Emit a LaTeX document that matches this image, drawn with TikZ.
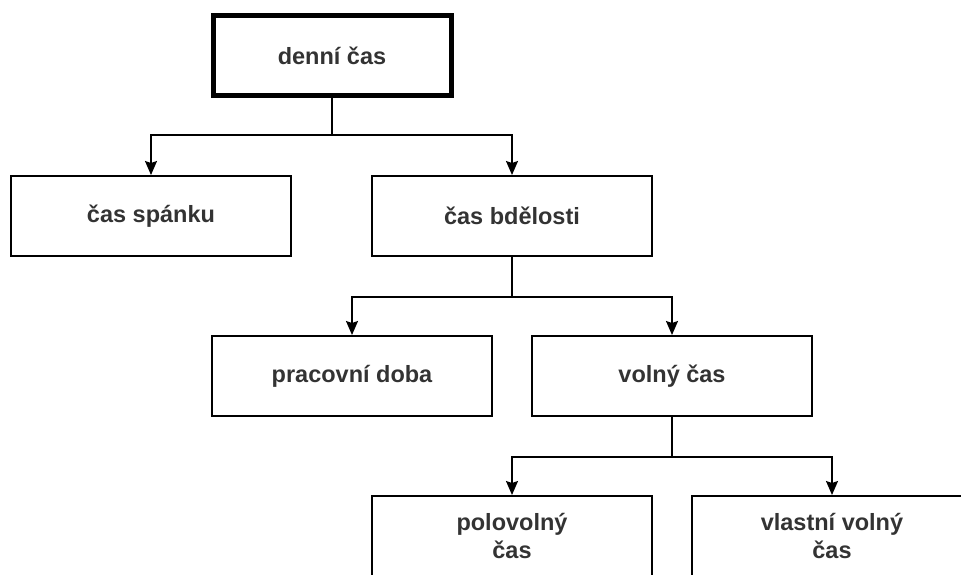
\documentclass[tikz,border=0pt]{standalone}
\usepackage{fontspec}
\setmainfont{Liberation Sans}
\usepackage{tikz}
\usetikzlibrary{positioning,arrows.meta}
\definecolor{textgray}{RGB}{51,51,51}

\begin{document}
\begin{tikzpicture}[x=1pt, y=-1pt,
    box/.style={rectangle, draw, line width=2pt, minimum width=280pt, minimum height=80pt, align=center, font=\fontsize{23.5}{28}\selectfont\bfseries, text=textgray},
    rootbox/.style={box, line width=5pt, minimum width=238pt},
    link/.style={line width=1.6pt, -{Stealth[length=14pt, width=12pt, inset=2pt]}}
]
\useasboundingbox (0,0) rectangle (961,574);

% LEVELS
\node[rootbox] (denni) at (332, 55.5) {denní čas};
\node[box] (spanek) at (151, 216) {čas spánku};
\node[box] (bdelost) at (512, 216) {čas bdělosti};
\node[box] (prace) at (352, 376) {pracovní doba};
\node[box] (volny) at (672, 376) {volný čas};
\node[box] (polovolny) at (512, 536) {polovolný\\čas};
\node[box] (vlastni) at (832, 536) {vlastní volný\\čas};

% CONNECTORS
\draw[link] (denni.south) -- ++(0,37) -| (spanek.north);
\draw[link] (denni.south) -- ++(0,37) -| (bdelost.north);
\draw[link] (bdelost.south) -- ++(0,40) -| (prace.north);
\draw[link] (bdelost.south) -- ++(0,40) -| (volny.north);
\draw[link] (volny.south) -- ++(0,40) -| (polovolny.north);
\draw[link] (volny.south) -- ++(0,40) -| (vlastni.north);

\end{tikzpicture}
\end{document}
